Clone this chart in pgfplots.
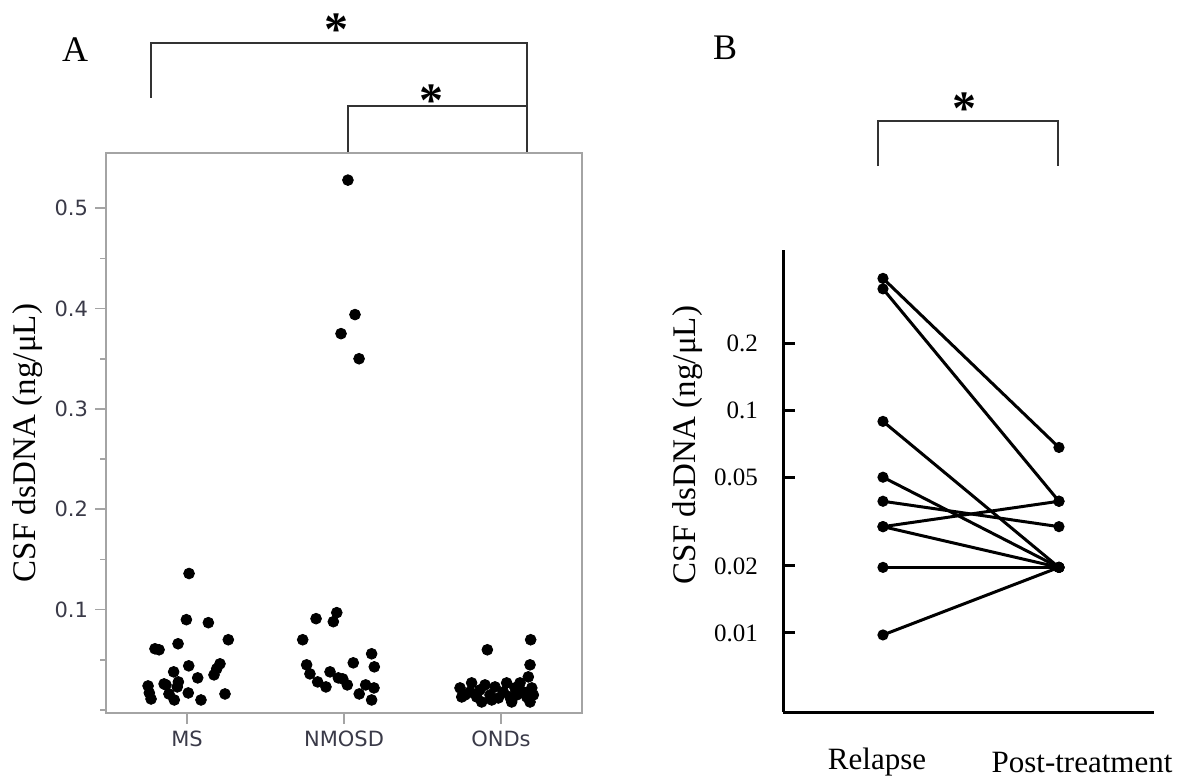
\documentclass[border=0pt]{standalone}
\usepackage{fontspec}
\setmainfont{Liberation Serif}
\newfontfamily\jmpfont{DejaVu Sans}
\usepackage{pgfplots}
\pgfplotsset{compat=1.18}
\definecolor{jmpgray}{HTML}{A4A4A4}
\definecolor{jmptext}{HTML}{3A3A48}
\definecolor{brk}{HTML}{333333}
\tikzset{pair/.style={black, solid, line width=1.5pt, mark=*, mark size=2pt, mark options={solid, fill=black}}}

\begin{document}
\begin{tikzpicture}
\path[use as bounding box] (0,0) rectangle (591pt,-390.5pt);

% panel A: dot plot by group
\begin{axis}[
  at={(53pt,-356.5pt)}, anchor=south west,
  scale only axis, width=238pt, height=280pt,
  xmin=-0.516, xmax=2.516, ymin=-0.003, ymax=0.555,
  axis line style={jmpgray, line width=1.1pt},
  xtick={0,1,2}, xticklabels={MS,NMOSD,ONDs},
  ytick={0.1,0.2,0.3,0.4,0.5},
  minor ytick={0,0.05,0.15,0.25,0.35,0.45},
  tick align=outside, tick pos=left,
  major tick length=5.5pt, minor tick length=3pt,
  every tick/.style={jmpgray, line width=0.8pt},
  ticklabel style={font=\jmpfont\fontsize{10.5}{12}\selectfont, text=jmptext},
  /pgf/number format/assume math mode=true,
  yticklabel style={/pgf/number format/fixed, /pgf/number format/precision=1},
]
% MS
\addplot[only marks, mark=*, mark size=2.7pt, black] coordinates {
(0.013,0.136) (-0.004,0.090) (0.136,0.087) (-0.057,0.066) (-0.204,0.061) (-0.178,0.060)
(0.263,0.070) (0.011,0.044) (-0.085,0.038) (0.210,0.046) (0.189,0.041) (0.172,0.035)
(0.068,0.032) (-0.248,0.024) (-0.240,0.017) (-0.229,0.011) (-0.146,0.026) (-0.134,0.025)
(-0.055,0.028) (-0.062,0.023) (-0.115,0.016) (-0.081,0.010) (0.008,0.017) (0.089,0.010)
(0.242,0.016)
};
% NMOSD
\addplot[only marks, mark=*, mark size=2.7pt, black] coordinates {
(1.025,0.528) (1.070,0.394) (0.981,0.375) (1.096,0.350)
(0.822,0.091) (0.954,0.097) (0.932,0.088) (0.737,0.070) (0.762,0.045) (0.783,0.036)
(0.832,0.028) (0.885,0.023) (0.911,0.038) (0.964,0.032) (0.992,0.031) (1.021,0.025)
(1.059,0.047) (1.176,0.056) (1.193,0.043) (1.097,0.016) (1.138,0.025) (1.191,0.022)
(1.176,0.010)
};
% ONDs
\addplot[only marks, mark=*, mark size=2.7pt, black] coordinates {
(1.913,0.060) (2.189,0.070) (2.185,0.045)
(1.739,0.022) (1.771,0.015) (1.803,0.018) (1.813,0.027) (1.845,0.013) (1.866,0.020)
(1.898,0.025) (1.930,0.015) (1.962,0.023) (1.983,0.012) (2.015,0.018) (2.036,0.027)
(2.057,0.013) (2.089,0.022) (2.100,0.015) (2.121,0.027) (2.142,0.018) (2.164,0.013)
(2.174,0.033) (2.196,0.022) (2.206,0.015) (1.750,0.013) (1.877,0.008) (2.068,0.008)
(2.185,0.008) (1.941,0.010)
};
\end{axis}

% panel B: paired values, log scale
\begin{axis}[
  at={(391.5pt,-356pt)}, anchor=south west,
  scale only axis, width=185.5pt, height=231pt,
  ymode=log, ymin=0.00442, ymax=0.5228, xmin=-0.568, xmax=1.54,
  axis lines*=left,
  axis line style={black, line width=1.5pt},
  xtick=\empty,
  ytick={0.01,0.02,0.05,0.1,0.2},
  yticklabels={0.01,0.02,0.05,0.1,0.2},
  yminorticks=false,
  tick align=inside, major tick length=6pt,
  every tick/.style={black, line width=1.5pt},
  yticklabel style={font=\fontsize{12.5}{14}\selectfont, anchor=east, xshift=-9pt},
  clip=false,
]
\addplot[pair] coordinates {(0,0.39) (1,0.068)};
\addplot[pair] coordinates {(0,0.35) (1,0.039)};
\addplot[pair] coordinates {(0,0.089) (1,0.0197)};
\addplot[pair] coordinates {(0,0.05) (1,0.0197)};
\addplot[pair] coordinates {(0,0.039) (1,0.03)};
\addplot[pair] coordinates {(0,0.03) (1,0.039)};
\addplot[pair] coordinates {(0,0.03) (1,0.0197)};
\addplot[pair] coordinates {(0,0.0197) (1,0.0197)};
\addplot[pair] coordinates {(0,0.0098) (1,0.0197)};
\end{axis}

\begin{scope}[x=0.5pt, y=-0.5pt]
\node[font=\fontsize{18}{20}\selectfont] at (75,50) {A};
\node[font=\fontsize{18}{20}\selectfont] at (725,48) {B};
\node[rotate=90, font=\fontsize{16.5}{18}\selectfont] at (28,443) {CSF dsDNA (ng/μL)};
\node[rotate=90, font=\fontsize{16.5}{18}\selectfont] at (688,445) {CSF dsDNA (ng/μL)};
\node[font=\fontsize{15.5}{17}\selectfont] at (877,762) {Relapse};
\node[font=\fontsize{15.5}{17}\selectfont] at (1082,762) {Post-treatment};
\draw[brk, line width=0.8pt] (151,98) -- (151,43) -- (527,43) -- (527,152);
\draw[brk, line width=0.8pt] (348,152) -- (348,106) -- (527,106);
\draw[brk, line width=0.8pt] (878,166) -- (878,121) -- (1058,121) -- (1058,166);
\node[anchor=base, font=\fontsize{24}{26}\selectfont\bfseries] at (336,46) {*};
\node[anchor=base, font=\fontsize{24}{26}\selectfont\bfseries] at (431,117) {*};
\node[anchor=base, font=\fontsize{24}{26}\selectfont\bfseries] at (964,125) {*};
\end{scope}
\end{tikzpicture}
\end{document}
